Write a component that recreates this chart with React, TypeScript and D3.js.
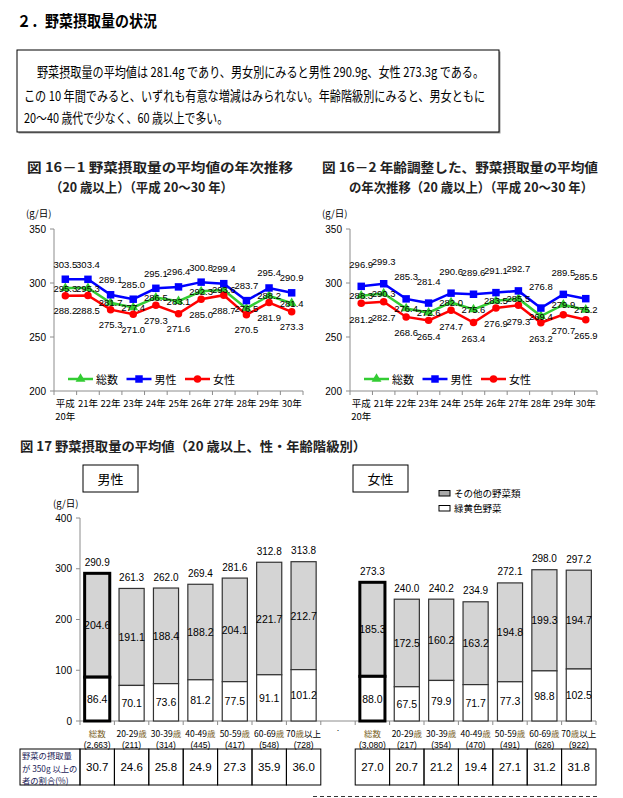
import React from "react";
import * as d3 from "d3";

// 図16 年次推移（平成20〜30年）
const years = ["平成|20年", "21年", "22年", "23年", "24年", "25年", "26年", "27年", "28年", "29年", "30年"];
const totalTrend = [295.3, 295.3, 281.7, 277.4, 286.5, 283.1, 292.3, 293.6, 276.5, 288.2, 281.4];
const maleTrend = [303.5, 303.4, 289.1, 285.0, 295.1, 296.4, 300.8, 299.4, 283.7, 295.4, 290.9];
const femaleTrend = [288.2, 288.5, 275.3, 271.0, 279.3, 271.6, 285.0, 288.7, 270.5, 281.9, 273.3];
const totalAdj = [288.3, 290.3, 276.4, 272.6, 282.0, 275.6, 283.5, 285.5, 269.4, 279.9, 275.2];
const maleAdj = [296.9, 299.3, 285.3, 281.4, 290.6, 289.6, 291.1, 292.7, 276.8, 289.5, 285.5];
const femaleAdj = [281.2, 282.7, 268.6, 265.4, 274.7, 263.4, 276.9, 279.3, 263.2, 270.7, 265.9];
const trendTicks = [200, 250, 300, 350];

// 図17 性・年齢階級別
const ageGroups = ["総数", "20-29歳", "30-39歳", "40-49歳", "50-59歳", "60-69歳", "70歳以上"];
const maleCounts = ["(2,663)", "(211)", "(314)", "(445)", "(417)", "(548)", "(728)"];
const femaleCounts = ["(3,080)", "(217)", "(354)", "(470)", "(491)", "(626)", "(922)"];
const maleGreenYellow = [86.4, 70.1, 73.6, 81.2, 77.5, 91.1, 101.2];
const maleOther = [204.6, 191.1, 188.4, 188.2, 204.1, 221.7, 212.7];
const maleTotal = [290.9, 261.3, 262.0, 269.4, 281.6, 312.8, 313.8];
const femaleGreenYellow = [88.0, 67.5, 79.9, 71.7, 77.3, 98.8, 102.5];
const femaleOther = [185.3, 172.5, 160.2, 163.2, 194.8, 199.3, 194.7];
const femaleTotal = [273.3, 240.0, 240.2, 234.9, 272.1, 298.0, 297.2];
const male350 = [30.7, 24.6, 25.8, 24.9, 27.3, 35.9, 36.0];
const female350 = [27.0, 20.7, 21.2, 19.4, 27.1, 31.2, 31.8];
const barTicks = [0, 100, 200, 300, 400];

const JP = "'Noto Sans CJK JP', 'Noto Sans', sans-serif";
const NUM = "'Liberation Sans', Arial, sans-serif";
const AXIS = "#8c8c8c";

function TrendChart({ x0, x1, total, male, female, maleDy, femaleDy }: {
  x0: number; x1: number; total: number[]; male: number[]; female: number[]; maleDy: number; femaleDy: number;
}) {
  const y = d3.scaleLinear().domain([200, 350]).range([391, 229]);
  const x = d3.scaleBand<number>().domain(d3.range(years.length)).range([x0, x1]);
  const cx = (i: number) => (x(i) ?? 0) + x.bandwidth() / 2;
  const line = d3.line<number>().x((_, i) => cx(i)).y((d) => y(d));
  const series = [
    { name: "総数", values: total, color: "#33cc33", sym: d3.symbolTriangle, size: 42, dy: 0 },
    { name: "男性", values: male, color: "#0000ff", sym: d3.symbolSquare, size: 56, dy: maleDy },
    { name: "女性", values: female, color: "#ff0000", sym: d3.symbolCircle, size: 44, dy: femaleDy },
  ];
  return (
    <g>
      {/* axes */}
      <line x1={x0} x2={x0} y1={y(350)} y2={y(200)} stroke={AXIS} />
      <line x1={x0} x2={x1} y1={y(200)} y2={y(200)} stroke={AXIS} />
      {trendTicks.map((t) => (
        <g key={t}>
          <line x1={x0 - 4} x2={x0} y1={y(t)} y2={y(t)} stroke={AXIS} />
          <text x={x0 - 8} y={y(t)} textAnchor="end" dominantBaseline="central" fontSize={10} fontFamily={NUM}>{t}</text>
        </g>
      ))}
      {d3.range(years.length + 1).map((i) => {
        const xx = x0 + i * x.step();
        return <line key={i} x1={xx} x2={xx} y1={y(200)} y2={y(200) + 4} stroke={AXIS} />;
      })}
      {years.map((lab, i) => {
        const parts = lab.split("|");
        return parts.map((p, j) => (
          <text key={i + "-" + j} x={cx(i)} y={402.5 + j * 13} textAnchor="middle" dominantBaseline="central"
            fontSize={9.5} fontFamily={JP}>{p}</text>
        ));
      })}
      <text x={x0 - 28} y={213} dominantBaseline="central" fontSize={9.5} fontFamily={JP}>(g/日)</text>

      {/* lines & markers */}
      {series.map((s) => (
        <g key={s.name}>
          <path d={line(s.values) ?? ""} fill="none" stroke={s.color} strokeWidth={2.5} />
          {s.values.map((v, i) => (
            <path key={i} d={d3.symbol(s.sym, s.size)() ?? ""} transform={`translate(${cx(i)},${y(v)})`} fill={s.color} />
          ))}
        </g>
      ))}
      {series.map((s) =>
        s.values.map((v, i) => (
          <text key={s.name + i} x={cx(i)} y={y(v) + s.dy} textAnchor="middle" dominantBaseline="central"
            fontSize={9.5} fontFamily={NUM}>{v.toFixed(1)}</text>
        ))
      )}

      {/* legend */}
      {series.map((s, i) => {
        const lx = x0 + 14 + i * 58.5;
        return (
          <g key={"lg" + s.name}>
            <line x1={lx} x2={lx + 25} y1={379} y2={379} stroke={s.color} strokeWidth={2.5} />
            <path d={d3.symbol(s.sym, s.size)() ?? ""} transform={`translate(${lx + 12.5},379)`} fill={s.color} />
            <text x={lx + 28} y={379} dominantBaseline="central" fontSize={11} fontFamily={JP}>{s.name}</text>
          </g>
        );
      })}
    </g>
  );
}

function BarChart() {
  const yB = d3.scaleLinear().domain([0, 400]).range([721, 518]);
  const slots = [...ageGroups.map((g) => "男性:" + g), ".", ...ageGroups.map((g) => "女性:" + g)];
  const xB = d3.scaleBand<string>().domain(slots).range([80, 596]);
  const bw = xB.step() * 0.73;
  const groups = [
    { key: "男性", gy: maleGreenYellow, other: maleOther, total: maleTotal, counts: maleCounts, pct: male350 },
    { key: "女性", gy: femaleGreenYellow, other: femaleOther, total: femaleTotal, counts: femaleCounts, pct: female350 },
  ];
  const rowTop = 749, rowBot = 785;
  return (
    <g>
      <line x1={80} x2={80} y1={yB(400)} y2={yB(0)} stroke={AXIS} />
      <line x1={80} x2={596} y1={yB(0)} y2={yB(0)} stroke={AXIS} />
      {barTicks.map((t) => (
        <g key={t}>
          <line x1={76} x2={80} y1={yB(t)} y2={yB(t)} stroke={AXIS} />
          <text x={72} y={yB(t)} textAnchor="end" dominantBaseline="central" fontSize={10} fontFamily={NUM}>{t}</text>
        </g>
      ))}
      {d3.range(slots.length + 1).map((i) => {
        const xx = 80 + i * xB.step();
        return <line key={i} x1={xx} x2={xx} y1={yB(0)} y2={yB(0) + 4} stroke={AXIS} />;
      })}
      <text x={53} y={503} dominantBaseline="central" fontSize={9.5} fontFamily={JP}>(g/日)</text>
      <text x={(xB(".") ?? 0) + xB.step() / 2} y={731} textAnchor="middle" fontSize={9} fontFamily={NUM}>.</text>

      {groups.map((g) =>
        ageGroups.map((age, i) => {
          const key = g.key + ":" + age;
          const c = (xB(key) ?? 0) + xB.step() / 2;
          const bx = c - bw / 2;
          const thick = i === 0;
          const sw = thick ? 3 : 1.2;
          const stroke = thick ? "#000" : "#333";
          const yTop = yB(g.gy[i] + g.other[i]);
          const yMid = yB(g.gy[i]);
          return (
            <g key={key}>
              <rect x={bx} y={yTop} width={bw} height={yMid - yTop} fill="#d4d4d4" stroke={stroke} strokeWidth={sw} />
              <rect x={bx} y={yMid} width={bw} height={yB(0) - yMid} fill="#fff" stroke={stroke} strokeWidth={sw} />
              <text x={c} y={(yTop + yMid) / 2} textAnchor="middle" dominantBaseline="central" fontSize={10.5} fontFamily={NUM}>{g.other[i].toFixed(1)}</text>
              <text x={c} y={(yMid + yB(0)) / 2} textAnchor="middle" dominantBaseline="central" fontSize={10.5} fontFamily={NUM}>{g.gy[i].toFixed(1)}</text>
              <text x={c} y={yB(g.total[i]) - 11} textAnchor="middle" dominantBaseline="central" fontSize={10} fontFamily={NUM}>{g.total[i].toFixed(1)}</text>
              <text x={c} y={733} textAnchor="middle" dominantBaseline="central" fontSize={8.5} fontFamily={JP}>
                {age.includes("歳") ? (
                  <>
                    {age.split("歳")[0]}
                    <tspan fill="#7a6228">歳</tspan>
                    {age.split("歳")[1]}
                  </>
                ) : (
                  <tspan fill="#7a6228">{age}</tspan>
                )}
              </text>
              <text x={c} y={744.5} textAnchor="middle" dominantBaseline="central" fontSize={8.5} fontFamily={NUM}>{g.counts[i]}</text>
              <rect x={xB(key) ?? 0} y={rowTop} width={xB.step()} height={rowBot - rowTop} fill="none" stroke="#000" strokeWidth={1} />
              <text x={c} y={(rowTop + rowBot) / 2} textAnchor="middle" dominantBaseline="central" fontSize={11.5} fontFamily={NUM}>{g.pct[i].toFixed(1)}</text>
            </g>
          );
        })
      )}
      {/* row label cell */}
      <rect x={20} y={rowTop} width={(xB("男性:総数") ?? 0) - 20} height={rowBot - rowTop} fill="none" stroke="#000" strokeWidth={1} />
      {["野菜の摂取量", "が 350g 以上の", "者の割合(%)"].map((t, i) => (
        <text key={t} x={22} y={755 + i * 12.5} dominantBaseline="central" fontSize={8.3} fontFamily={JP} fill="#1c2458">{t}</text>
      ))}

      {/* sex boxes */}
      <rect x={83} y={465} width={55} height={27} fill="#fff" stroke="#000" strokeWidth={1} />
      <text x={110.5} y={478.5} textAnchor="middle" dominantBaseline="central" fontSize={13} fontFamily={JP}>男性</text>
      <rect x={353} y={465} width={55} height={27} fill="#fff" stroke="#000" strokeWidth={1} />
      <text x={380.5} y={478.5} textAnchor="middle" dominantBaseline="central" fontSize={13} fontFamily={JP}>女性</text>

      {/* legend */}
      <rect x={439} y={490.5} width={11} height={5.5} fill="#a8a8a8" stroke="#000" strokeWidth={1} />
      <text x={454} y={493} dominantBaseline="central" fontSize={9.5} fontFamily={JP}>その他の野菜類</text>
      <rect x={439} y={505.5} width={11} height={5.5} fill="#fff" stroke="#000" strokeWidth={1} />
      <text x={454} y={508} dominantBaseline="central" fontSize={9.5} fontFamily={JP}>緑黄色野菜</text>
    </g>
  );
}

export default function App() {
  return (
    <svg width={623} height={798} style={{ position: "absolute", left: 0, top: 0, background: "#fff" }}>
      <rect width={623} height={798} fill="#fff" />
      <text x={17} y={20} dominantBaseline="central" fontSize={15.5} fontWeight={700} fontFamily={JP}
        textLength={140} lengthAdjust="spacingAndGlyphs">２．野菜摂取量の状況</text>

      {/* summary box */}
      <rect x={18.5} y={51.5} width={482} height={82} fill="#9a9a9a" />
      <rect x={17} y={50} width={482} height={82} fill="#fff" stroke="#000" strokeWidth={1} />
      <text x={37} y={71} dominantBaseline="central" fontSize={13.5} fontFamily={JP} textLength={447} lengthAdjust="spacingAndGlyphs">
        野菜摂取量の平均値は 281.4g であり、男女別にみると男性 290.9g、女性 273.3g である。
      </text>
      <text x={24} y={95} dominantBaseline="central" fontSize={13.5} fontFamily={JP} textLength={461} lengthAdjust="spacingAndGlyphs">
        この 10 年間でみると、いずれも有意な増減はみられない。年齢階級別にみると、男女ともに
      </text>
      <text x={24} y={117} dominantBaseline="central" fontSize={13.5} fontFamily={JP} textLength={204} lengthAdjust="spacingAndGlyphs">
        20～40 歳代で少なく、60 歳以上で多い。
      </text>

      {/* figure titles */}
      <text x={27} y={166} dominantBaseline="central" fontSize={13} fontWeight={700} fill="#222" fontFamily={JP} textLength={266} lengthAdjust="spacingAndGlyphs">図 16－1 野菜摂取量の平均値の年次推移</text>
      <text x={50} y={186} dominantBaseline="central" fontSize={13} fontWeight={700} fill="#222" fontFamily={JP} textLength={183} lengthAdjust="spacingAndGlyphs">（20 歳以上）（平成 20～30 年）</text>
      <text x={322} y={166} dominantBaseline="central" fontSize={13} fontWeight={700} fill="#222" fontFamily={JP} textLength={276} lengthAdjust="spacingAndGlyphs">図 16－2 年齢調整した、野菜摂取量の平均値</text>
      <text x={349} y={186} dominantBaseline="central" fontSize={13} fontWeight={700} fill="#222" fontFamily={JP} textLength={244} lengthAdjust="spacingAndGlyphs">の年次推移（20 歳以上）（平成 20～30 年）</text>
      <text x={20} y={445} dominantBaseline="central" fontSize={13} fontWeight={700} fill="#222" fontFamily={JP} textLength={346} lengthAdjust="spacingAndGlyphs">図 17 野菜摂取量の平均値（20 歳以上、性・年齢階級別）</text>

      <TrendChart x0={54} x1={303} total={totalTrend} male={maleTrend} female={femaleTrend} maleDy={-15} femaleDy={15} />
      <TrendChart x0={350} x1={597} total={totalAdj} male={maleAdj} female={femaleAdj} maleDy={-22} femaleDy={16} />

      <BarChart />

      <line x1={313} x2={597} y1={796.5} y2={796.5} stroke="#333" strokeWidth={1} strokeDasharray="4 3" />
    </svg>
  );
}
